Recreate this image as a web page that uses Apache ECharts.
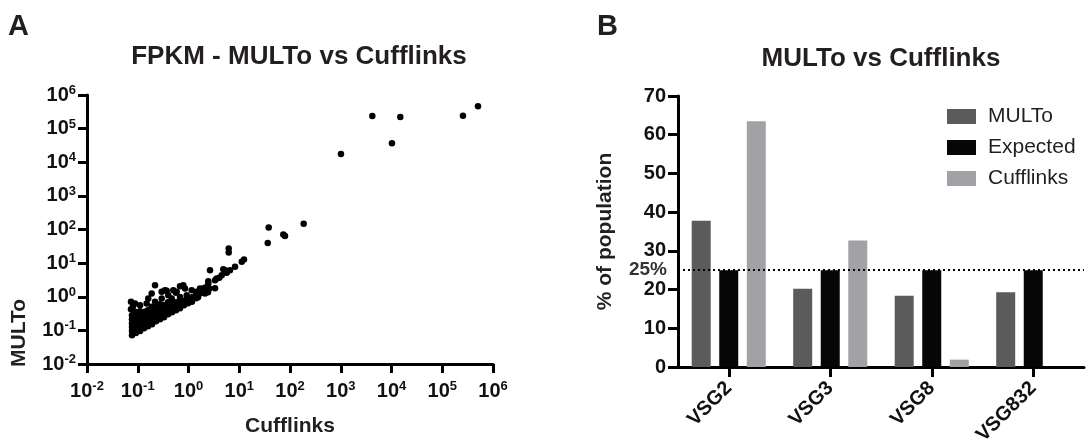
<!DOCTYPE html>
<html><head><meta charset="utf-8">
<script src="https://cdn.jsdelivr.net/npm/echarts@6/dist/echarts.min.js"></script>
<style>html,body{margin:0;padding:0;background:#fff}#c{width:1086px;height:443px}</style>
</head><body><div id="c"></div>
<script>
// Panel A: FPKM pairs [Cufflinks, MULTo]
const fpkmPoints = [
  [0.077,0.072],[0.077,0.095],[0.077,0.125],[0.077,0.164],[0.077,0.215],[0.077,0.283],
  [0.092,0.083],[0.092,0.109],[0.092,0.143],[0.092,0.188],[0.092,0.247],[0.092,0.325],
  [0.111,0.095],[0.111,0.125],[0.111,0.164],[0.111,0.215],[0.111,0.283],[0.111,0.373],
  [0.133,0.116],[0.133,0.153],[0.133,0.201],[0.133,0.265],[0.133,0.348],
  [0.159,0.133],[0.159,0.175],[0.159,0.231],[0.159,0.303],[0.159,0.399],
  [0.191,0.153],[0.191,0.201],[0.191,0.265],[0.191,0.348],[0.191,0.458],
  [0.229,0.188],[0.229,0.247],[0.229,0.325],[0.229,0.428],[0.229,0.525],
  [0.275,0.215],[0.275,0.283],[0.275,0.373],[0.275,0.490],[0.275,0.602],
  [0.329,0.247],[0.329,0.325],[0.329,0.428],[0.329,0.562],
  [0.395,0.303],[0.395,0.399],[0.395,0.525],[0.395,0.691],
  [0.473,0.348],[0.473,0.458],[0.473,0.602],[0.473,0.740],
  [0.567,0.399],[0.567,0.525],[0.567,0.691],
  [0.680,0.458],[0.680,0.602],[0.680,0.792],
  [0.815,0.562],[0.815,0.740],
  [0.978,0.645],[0.978,0.848],
  [1.17,0.740],[1.17,0.973],
  [1.41,0.909],[1.41,1.12],
  [0.0736,0.705],[0.0736,0.428],[0.0806,0.525],[0.0883,0.632],[0.111,0.562],[0.139,0.356],
  [0.150,0.632],[0.219,0.705],[0.254,0.399],[0.296,0.890],[0.467,0.890],[0.542,0.562],
  [0.734,0.632],[1.156,0.705],[0.344,0.562],[0.188,0.501],[0.0883,0.356],[0.680,0.99],
  [0.400,0.632],[0.922,0.890],[1.685,1.766],[2.114,1.254],
  [0.161,0.890],[0.188,1.254],[0.219,2.215],[0.296,1.40],[0.344,1.572],[0.400,1.116],
  [0.502,1.572],[0.585,1.40],[0.790,2.215],[0.853,1.766],[0.922,1.116],[1.156,1.572],
  [1.451,1.40],[1.957,1.766],[2.455,2.488],[2.652,6.19],[3.33,3.12],[4.51,4.39],
  [5.24,6.19],[6.57,6.19],[8.25,7.76],[11.2,10.9],[0.680,2.07],[0.372,1.50],[0.567,1.31],
  [1.539,0.973],[1.685,1.254],[2.143,1.891],[2.570,1.766],[2.423,1.371],[3.33,1.803],
  [2.455,2.913],[3.595,3.505],[4.045,3.65],[4.85,6.63],[5.66,5.14],[6.20,27.4],[6.20,20.8],
  [12.4,12.9],[38.0,115.5],[36.4,39.4],[73.8,71.5],[79.7,63.6],[186,148],
  [1010,17500],[4190,237000],[10200,36500],[14900,221000],[256000,242000],[506000,461000]
];
const logMin = 0.01, logMax = 1e6;

// Panel B
const vsgCategories = ['VSG2','VSG3','VSG8','VSG832'];
const multoPct = [37.8, 20.2, 18.4, 19.3];
const expectedPct = [25, 25, 25, 25];
const cufflinksPct = [63.5, 32.7, 1.9, 0];
const expectedLine = 25;
const pctMin = 0, pctMax = 70, pctStep = 10;

const FONT = '"Liberation Sans", Arial, Helvetica, sans-serif';
const INK = '#111';
const TXT = '#231f20';

const chart = echarts.init(document.getElementById('c'), null, {renderer:'canvas'});

const supLabel = {
  formatter: v => '{b|10}{s|' + Math.round(Math.log10(v)) + '}',
  rich: {
    b: {fontSize: 20, fontWeight: 'bold', fontFamily: FONT, color: INK, lineHeight: 22},
    s: {fontSize: 13, fontWeight: 'bold', fontFamily: FONT, color: INK, verticalAlign: 'top', lineHeight: 13}
  }
};
const axisLineStyle = {show: true, lineStyle: {color: '#000', width: 3}};
const tickStyle = {show: true, length: 9, lineStyle: {color: '#000', width: 3}};

chart.setOption({
  animation: false,
  backgroundColor: '#fff',
  grid: [
    {left: 87, top: 95, width: 406, height: 269, containLabel: false, outerBoundsMode: 'none'},
    {left: 678, top: 96, width: 406, height: 271, containLabel: false, outerBoundsMode: 'none'}
  ],
  xAxis: [
    {gridIndex: 0, type: 'log', logBase: 10, min: logMin, max: logMax, splitNumber: 8,
     axisLine: axisLineStyle, axisTick: tickStyle, splitLine: {show: false}, minorTick: {show: false},
     axisLabel: Object.assign({margin: 16}, supLabel),
     name: 'Cufflinks', nameLocation: 'middle', nameGap: 52,
     nameTextStyle: {fontSize: 21, fontWeight: 'bold', fontFamily: FONT, color: TXT}},
    {gridIndex: 1, type: 'category', data: vsgCategories,
     axisLine: axisLineStyle, axisTick: {show: true, alignWithLabel: true, length: 10, lineStyle: {color: '#000', width: 3}},
     axisLabel: {rotate: 45, fontSize: 20, fontWeight: 'bold', fontFamily: FONT, color: INK, margin: 18}}
  ],
  yAxis: [
    {gridIndex: 0, type: 'log', logBase: 10, min: logMin, max: logMax, splitNumber: 8,
     axisLine: axisLineStyle, axisTick: tickStyle, splitLine: {show: false}, minorTick: {show: false},
     axisLabel: Object.assign({margin: 11}, supLabel)},
    {gridIndex: 1, type: 'value', min: pctMin, max: pctMax, interval: pctStep,
     axisLine: axisLineStyle, axisTick: {show: true, length: 10, lineStyle: {color: '#000', width: 3}},
     splitLine: {show: false},
     axisLabel: {fontSize: 20, fontWeight: 'bold', fontFamily: FONT, color: INK, margin: 12},
     name: '% of population', nameLocation: 'middle', nameGap: 62,
     nameTextStyle: {fontSize: 21, fontWeight: 'bold', fontFamily: FONT, color: TXT}}
  ],
  legend: {
    data: ['MULTo', 'Expected', 'Cufflinks'], orient: 'vertical', left: 942, top: 101,
    itemWidth: 29, itemHeight: 15, itemGap: 10, icon: 'rect', selectedMode: false,
    textStyle: {fontSize: 21, fontFamily: FONT, color: TXT, padding: [0, 0, 0, 7]}
  },
  series: [
    {type: 'scatter', xAxisIndex: 0, yAxisIndex: 0, data: fpkmPoints,
     symbol: 'circle', symbolSize: 6.5, itemStyle: {color: '#000', opacity: 1}, silent: true},
    {name: 'MULTo', type: 'bar', xAxisIndex: 1, yAxisIndex: 1, data: multoPct,
     barWidth: 19, barGap: '45%', itemStyle: {color: '#5b5b5b'}},
    {name: 'Expected', type: 'bar', xAxisIndex: 1, yAxisIndex: 1, data: expectedPct,
     barWidth: 19, barGap: '45%', itemStyle: {color: '#060606'},
     markLine: {silent: true, symbol: 'none', z: 10,
       data: [{yAxis: expectedLine}],
       lineStyle: {color: '#000', width: 2, type: [2, 3]},
       label: {show: true, position: 'start', distance: 11, formatter: expectedLine + '%',
         fontSize: 19, fontWeight: 'bold', fontFamily: FONT, color: '#333'}}},
    {name: 'Cufflinks', type: 'bar', xAxisIndex: 1, yAxisIndex: 1, data: cufflinksPct,
     barWidth: 19, barGap: '45%', itemStyle: {color: '#a2a1a6'}}
  ],
  graphic: [
    {type: 'text', x: 8, y: 12, style: {text: 'A', fontSize: 29, fontWeight: 'bold', fontFamily: FONT, fill: TXT}},
    {type: 'text', x: 597, y: 12, style: {text: 'B', fontSize: 29, fontWeight: 'bold', fontFamily: FONT, fill: TXT}},
    {type: 'text', x: 299, y: 57, style: {text: 'FPKM - MULTo vs Cufflinks', fontSize: 26, fontWeight: 'bold', fontFamily: FONT, fill: TXT, align: 'center', verticalAlign: 'middle'}},
    {type: 'text', x: 881, y: 59, style: {text: 'MULTo vs Cufflinks', fontSize: 26, fontWeight: 'bold', fontFamily: FONT, fill: TXT, align: 'center', verticalAlign: 'middle'}},
    {type: 'text', x: 19, y: 333, rotation: Math.PI / 2, style: {text: 'MULTo', fontSize: 21, fontWeight: 'bold', fontFamily: FONT, fill: TXT, align: 'center', verticalAlign: 'middle'}}
  ]
});
</script>
</body></html>
